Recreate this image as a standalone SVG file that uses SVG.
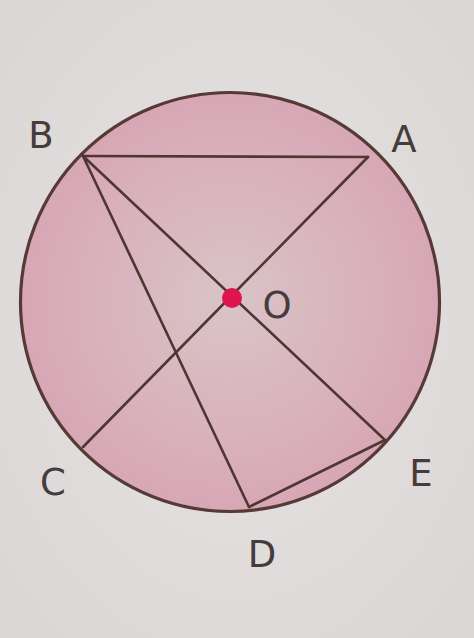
<svg xmlns="http://www.w3.org/2000/svg" width="474" height="638" viewBox="0 0 474 638">
<defs>
<radialGradient id="pink" cx="0.5" cy="0.5" r="0.5">
<stop offset="0" stop-color="#d9c4c7"/>
<stop offset="0.6" stop-color="#d9b3bd"/>
<stop offset="1" stop-color="#d7a7b4"/>
</radialGradient>
<radialGradient id="bg" cx="0.5" cy="0.5" r="0.7">
<stop offset="0" stop-color="#e6e3e2"/>
<stop offset="1" stop-color="#d9d6d5"/>
</radialGradient>
</defs>
<style>
.ln{stroke:#4e3632;stroke-width:2.6;fill:none;stroke-linecap:round}
.lb{font-family:"DejaVu Sans","Liberation Sans",sans-serif;font-size:37px;fill:#463c3b;text-anchor:middle}
</style>
<rect width="474" height="638" fill="url(#bg)"/>
<g id="circle">
<circle cx="230" cy="302" r="209.5" fill="url(#pink)" stroke="#553a36" stroke-width="3.2"/>
</g>
<g id="connectors">
<line class="ln" x1="83" y1="156" x2="368" y2="157"/>
<line class="ln" x1="368" y1="157" x2="83" y2="447"/>
<line class="ln" x1="83" y1="156" x2="385" y2="440"/>
<line class="ln" x1="83" y1="156" x2="249" y2="507"/>
<line class="ln" x1="249" y1="507" x2="385" y2="440"/>
</g>
<g id="O">
<circle cx="232" cy="298" r="10" fill="#e0154f"/>
<text class="lb" x="277" y="318">O</text>
</g>
<g id="B"><text class="lb" x="41" y="148">B</text></g>
<g id="A"><text class="lb" x="404" y="152">A</text></g>
<g id="C"><text class="lb" x="53" y="495">C</text></g>
<g id="E"><text class="lb" x="421" y="486">E</text></g>
<g id="D"><text class="lb" x="262" y="567">D</text></g>
</svg>
